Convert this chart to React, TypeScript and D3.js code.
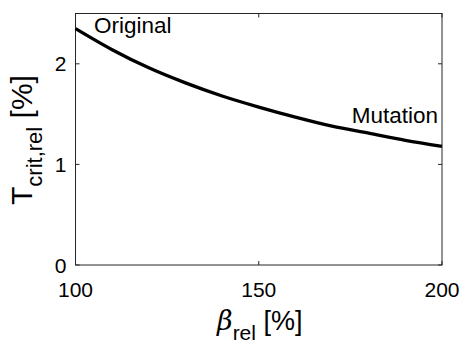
import * as d3 from 'd3';

// values
const betaRel = [100, 110, 120, 130, 140, 150, 160, 170, 180, 190, 200];
const tCritRel = [2.35, 2.14, 1.96, 1.81, 1.68, 1.57, 1.47, 1.38, 1.31, 1.24, 1.18];
const xTicks = [100, 150, 200];
const yTicks = [0, 1, 2];

const W = 462;
const H = 345;
const margin = { top: 13.5, right: 20, bottom: 80, left: 75.5 };
const FONT = 'Liberation Sans, Arial, Helvetica, sans-serif';
const AXIS = '#262626';

export default function App() {
  const x = d3.scaleLinear().domain([100, 200]).range([margin.left, W - margin.right]);
  const y = d3.scaleLinear().domain([0, 2.5]).range([H - margin.bottom, margin.top]);

  const pts = betaRel.map((b, i) => [b, tCritRel[i]] as [number, number]);
  const line = d3.line<[number, number]>()
    .x(d => x(d[0]))
    .y(d => y(d[1]))
    .curve(d3.curveMonotoneX);

  const x0 = x.range()[0], x1 = x.range()[1];
  const y0 = y.range()[0], y1 = y.range()[1];
  const tick = 4;

  return (
    <svg width={W} height={H} style={{ position: 'absolute', left: 0, top: 0 }} fontFamily={FONT}>
      <rect width={W} height={H} fill="#fff" />

      {/* frame */}
      <rect x={x0} y={y1} width={x1 - x0} height={y0 - y1} fill="none" stroke={AXIS} strokeWidth={1} />

      {/* x ticks, bottom and top, pointing inward */}
      {xTicks.map(t => (
        <g key={'x' + t}>
          <line x1={x(t)} x2={x(t)} y1={y0} y2={y0 - tick} stroke={AXIS} />
          <line x1={x(t)} x2={x(t)} y1={y1} y2={y1 + tick} stroke={AXIS} />
          <text x={x(t)} y={y0 + 32} textAnchor="middle" fontSize={21} fill="#000">{t}</text>
        </g>
      ))}

      {/* y ticks, left and right */}
      {yTicks.map(t => (
        <g key={'y' + t}>
          <line x1={x0} x2={x0 + tick} y1={y(t)} y2={y(t)} stroke={AXIS} />
          <line x1={x1} x2={x1 - tick} y1={y(t)} y2={y(t)} stroke={AXIS} />
          <text x={x0 - 9} y={y(t)} dy="0.36em" textAnchor="end" fontSize={21} fill="#000">{t}</text>
        </g>
      ))}

      <path d={line(pts) ?? ''} fill="none" stroke="#000" strokeWidth={3.3} />

      <text x={94} y={33} fontSize={22.5} fill="#000">Original</text>
      <text x={438} y={123} textAnchor="end" fontSize={22.5} fill="#000">Mutation</text>

      {/* x axis label */}
      <text x={(x0 + x1) / 2 + 1} y={330} textAnchor="middle" fontSize={27} fill="#000">
        <tspan fontStyle="italic" fontFamily="DejaVu Serif, serif">β</tspan>
        <tspan fontSize={21} dy={10}>rel</tspan>
        <tspan dy={-10}> [%]</tspan>
      </text>

      {/* y axis label */}
      <text
        transform={`translate(32, 205) rotate(-90)`}
        textAnchor="start"
        fontSize={30}
        fill="#000"
      >
        <tspan>T</tspan>
        <tspan fontSize={22} dy={10}>crit,rel</tspan>
        <tspan dy={-10}> [%]</tspan>
      </text>
    </svg>
  );
}
